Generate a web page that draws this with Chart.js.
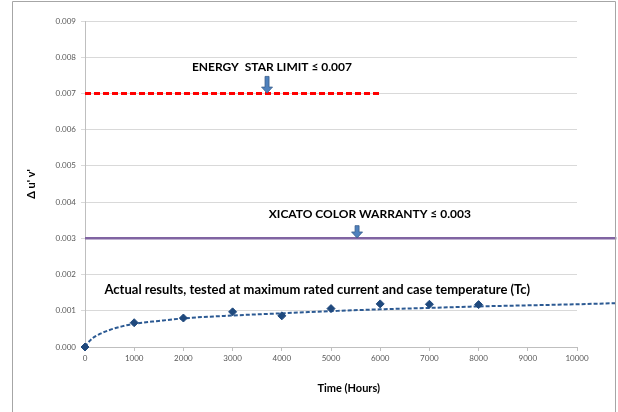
<!DOCTYPE html>
<html>
<head>
<meta charset="utf-8">
<script src="https://cdn.jsdelivr.net/npm/chart.js@4/dist/chart.umd.min.js"></script>
<style>
html,body{margin:0;padding:0;background:#fff;}
#wrap{width:618px;height:412px;position:relative;}
</style>
</head>
<body>
<div id="wrap"><canvas id="c" width="618" height="412"></canvas></div>
<script>
// ---- data ----
const hours = [0, 1000, 2000, 3000, 4000, 5000, 6000, 7000, 8000];
const deltaUV = [0.0000, 0.00067, 0.00080, 0.00097, 0.00086, 0.00106, 0.00119, 0.00118, 0.00117];

const trendHours = [0, 50, 150, 300, 500, 750, 1000, 1500, 2000, 3000, 4000, 5000, 6000, 7000, 8000, 9000, 10000, 10800];
const trendValues = [0.0000, 0.00010, 0.00024, 0.00036, 0.00047, 0.00057, 0.00064, 0.00072, 0.00079, 0.00087, 0.00093, 0.00099, 0.00104, 0.00108, 0.00112, 0.00115, 0.00118, 0.00121];

const energyStarHours = [0, 6000];
const energyStarLimit = [0.007, 0.007];

const xicatoHours = [0, 10800];
const xicatoLimit = [0.003, 0.003];

const yTicks = [0, 0.001, 0.002, 0.003, 0.004, 0.005, 0.006, 0.007, 0.008, 0.009];
const xTicks = [0, 1000, 2000, 3000, 4000, 5000, 6000, 7000, 8000, 9000, 10000];

const energyLabel = "ENERGY  STAR LIMIT \u2264 0.007";
const xicatoLabel = "XICATO COLOR WARRANTY \u2264 0.003";
const actualLabel = "Actual results, tested at maximum rated current and case temperature (Tc)";
const xTitle = "Time (Hours)";
const yTitle = "\u0394 u' v'";

// label anchors (data coordinates)
const energyText = [3800, 0.00774];
const energyArrow = [3700, 0.00747, 0.00701];
const xicatoText = [5790, 0.00368];
const xicatoArrow = [5530, 0.00335, 0.00301];
const actualText = [4720, 0.00158];

const pts = (xs, ys) => xs.map((x, i) => ({x: x, y: ys[i]}));

const FONT = "Lato, 'Liberation Sans', sans-serif";

function arrow(ctx, x, y0, y1, shaftW, headW, headH) {
  ctx.save();
  ctx.beginPath();
  ctx.moveTo(x - shaftW/2, y0);
  ctx.lineTo(x + shaftW/2, y0);
  ctx.lineTo(x + shaftW/2, y1 - headH);
  ctx.lineTo(x + headW/2, y1 - headH);
  ctx.lineTo(x, y1);
  ctx.lineTo(x - headW/2, y1 - headH);
  ctx.lineTo(x - shaftW/2, y1 - headH);
  ctx.closePath();
  ctx.fillStyle = '#4F81BD';
  ctx.fill();
  ctx.strokeStyle = '#385D8A';
  ctx.lineWidth = 0.8;
  ctx.stroke();
  ctx.restore();
}

const decor = {
  id: 'decor',
  afterDatasetsDraw(chart) {
    const {ctx, scales: {x, y}} = chart;
    ctx.save();
    ctx.fillStyle = '#000';
    ctx.textAlign = 'center';
    ctx.textBaseline = 'middle';
    ctx.font = "bold 12px " + FONT;
    ctx.fillText(energyLabel, x.getPixelForValue(energyText[0]), y.getPixelForValue(energyText[1]));
    ctx.fillText(xicatoLabel, x.getPixelForValue(xicatoText[0]), y.getPixelForValue(xicatoText[1]));
    ctx.font = "bold 13px " + FONT;
    ctx.fillText(actualLabel, x.getPixelForValue(actualText[0]), y.getPixelForValue(actualText[1]));
    ctx.font = "bold 11px " + FONT;
    ctx.fillText(xTitle, x.getPixelForValue(5360), 388);
    ctx.restore();
    arrow(ctx, x.getPixelForValue(energyArrow[0]), y.getPixelForValue(energyArrow[1]), y.getPixelForValue(energyArrow[2]), 4, 11, 6);
    arrow(ctx, x.getPixelForValue(xicatoArrow[0]), y.getPixelForValue(xicatoArrow[1]), y.getPixelForValue(xicatoArrow[2]), 4, 11, 6);
  },
  afterDraw(chart) {
    const ctx = chart.ctx;
    ctx.save();
    ctx.strokeStyle = '#A6A6A6';
    ctx.lineWidth = 1;
    ctx.beginPath();
    ctx.moveTo(12.5, 412);
    ctx.lineTo(12.5, 1.5);
    ctx.lineTo(615.5, 1.5);
    ctx.lineTo(615.5, 412);
    ctx.stroke();
    ctx.restore();
  }
};

new Chart(document.getElementById('c'), {
  type: 'scatter',
  data: {
    datasets: [
      {
        label: 'Actual',
        data: pts(hours, deltaUV),
        showLine: false,
        pointStyle: 'rectRot',
        pointRadius: 4,
        backgroundColor: '#1F497D',
        borderColor: '#1F497D',
        borderWidth: 1,
        clip: false,
        order: 0
      },
      {
        label: 'Trend',
        data: pts(trendHours, trendValues),
        showLine: true,
        pointRadius: 0,
        borderColor: '#2C5A93',
        borderWidth: 2,
        borderDash: [4, 2],
        cubicInterpolationMode: 'monotone',
        clip: false,
        order: 1
      },
      {
        label: 'Xicato',
        data: pts(xicatoHours, xicatoLimit),
        showLine: true,
        pointRadius: 0,
        borderColor: '#8064A2',
        borderWidth: 2.5,
        clip: false,
        order: 2
      },
      {
        label: 'Energy Star',
        data: pts(energyStarHours, energyStarLimit),
        showLine: true,
        pointRadius: 0,
        borderColor: '#FF0000',
        borderWidth: 3,
        borderDash: [6, 3],
        clip: false,
        order: 3
      }
    ]
  },
  options: {
    responsive: false,
    animation: false,
    events: [],
    layout: {padding: {left: 20, right: 41, top: 21, bottom: 0}},
    plugins: {legend: {display: false}, tooltip: {enabled: false}},
    scales: {
      x: {
        type: 'linear',
        afterDataLimits: s => { s.min = xTicks[0]; s.max = xTicks[xTicks.length - 1]; },
        afterFit: s => { s.height = 65; },
        afterBuildTicks: s => { s.ticks = xTicks.map(v => ({value: v})); },
        ticks: {
          color: '#595959',
          font: {family: FONT, size: 8},
          padding: 3,
          maxRotation: 0,
          callback: v => String(v)
        },
        grid: {display: true, drawOnChartArea: false, drawTicks: true, tickLength: 4, color: '#BFBFBF'},
        border: {display: true, color: '#BFBFBF'}
      },
      y: {
        type: 'linear',
        min: 0, max: 0.009,
        afterFit: s => { s.width = 65; },
        afterBuildTicks: s => { s.ticks = yTicks.map(v => ({value: v})); },
        ticks: {
          color: '#595959',
          font: {family: FONT, size: 8},
          padding: 5,
          callback: v => v.toFixed(3)
        },
        grid: {color: '#D9D9D9', tickLength: 4, drawTicks: true},
        border: {display: true, color: '#BFBFBF'},
        title: {display: true, text: yTitle, color: '#000', font: {family: FONT, size: 11, weight: 'bold'}, padding: {top: 5, bottom: 0}}
      }
    }
  },
  plugins: [decor]
});
</script>
</body>
</html>
